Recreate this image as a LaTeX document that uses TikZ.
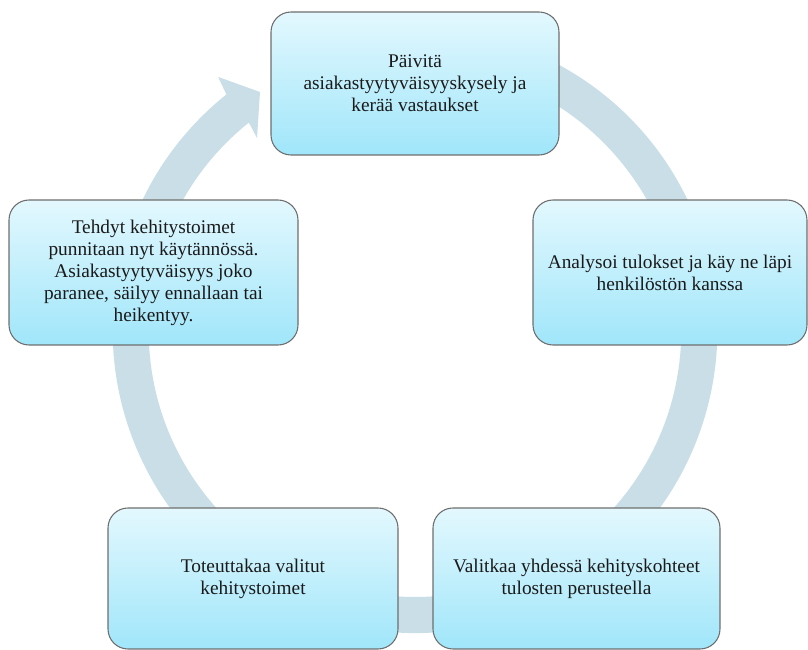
\documentclass[tikz,border=0pt]{standalone}
\usepackage{fontspec}
\setmainfont{Liberation Serif}
\definecolor{kehavari}{HTML}{C9DEE6}
\definecolor{ylavari}{HTML}{E3F8FE}
\definecolor{alavari}{HTML}{A0E6FA}
\definecolor{reunavari}{HTML}{6E6E6E}
\definecolor{tekstivari}{HTML}{1A1A1A}
\tikzset{
  vaihe/.style={draw=reunavari, line width=0.8pt, rounded corners=15pt,
    top color=ylavari, bottom color=alavari, align=center,
    text=tekstivari, font=\fontsize{14.5}{16.5}\selectfont, inner sep=0pt},
  kaari/.style={fill=kehavari, draw=none}
}

\begin{document}
\begin{tikzpicture}[x=0.75pt,y=0.75pt]
    \useasboundingbox (0,0) rectangle (808,650);
    \coordinate (keski) at (415,319.3);

    \fill[kaari] ([shift={(keski)}]110:302.3) arc[start angle=110, end angle=-231.4, radius=302.3]
        -- ([shift={(keski)}]127.8:321.2) -- ([shift={(keski)}]123:284.6)
        -- ([shift={(keski)}]129.35:249.2) -- ([shift={(keski)}]128.6:266.3)
        arc[start angle=-231.4, end angle=110, radius=266.3] -- cycle;

    \node[vaihe, minimum width=216pt, minimum height=107.25pt] (paivita) at (415,566.5)
        {Päivitä\\asiakastyytyväisyyskysely ja\\kerää vastaukset};
    \node[vaihe, minimum width=205.5pt, minimum height=108.75pt] (analysoi) at (670,377.5)
        {Analysoi tulokset ja käy ne läpi\\henkilöstön kanssa};
    \node[vaihe, minimum width=215.25pt, minimum height=105.75pt] (valitkaa) at (576.5,71.5)
        {Valitkaa yhdessä kehityskohteet\\tulosten perusteella};
    \node[vaihe, minimum width=217.5pt, minimum height=105.75pt] (toteuta) at (253,71.5)
        {Toteuttakaa valitut\\kehitystoimet};
    \node[vaihe, minimum width=216.75pt, minimum height=108.75pt] (tehdyt) at (153.5,377.5)
        {Tehdyt kehitystoimet\\punnitaan nyt käytännössä.\\Asiakastyytyväisyys joko\\paranee, säilyy ennallaan tai\\heikentyy.};

\end{tikzpicture}
\end{document}
